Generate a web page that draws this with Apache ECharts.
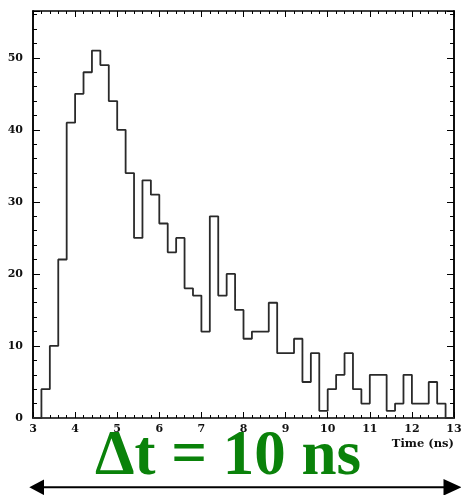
<!DOCTYPE html>
<html>
<head>
<meta charset="utf-8">
<script src="https://cdn.jsdelivr.net/npm/echarts@6/dist/echarts.min.js"></script>
<style>
  html, body { margin: 0; padding: 0; background: #fff; }
  #chart { width: 461px; height: 495px; }
</style>
</head>
<body>
<div id="chart"></div>
<script>
// Arrival-time histogram: left edge of each 0.2 ns bin and its entry count
const binLeftEdges = [
  3.0, 3.2, 3.4, 3.6, 3.8, 4.0, 4.2, 4.4, 4.6, 4.8,
  5.0, 5.2, 5.4, 5.6, 5.8, 6.0, 6.2, 6.4, 6.6, 6.8,
  7.0, 7.2, 7.4, 7.6, 7.8, 8.0, 8.2, 8.4, 8.6, 8.8,
  9.0, 9.2, 9.4, 9.6, 9.8, 10.0, 10.2, 10.4, 10.6, 10.8,
  11.0, 11.2, 11.4, 11.6, 11.8, 12.0, 12.2, 12.4, 12.6, 12.8
];
const counts = [
  0, 4, 10, 22, 41, 45, 48, 51, 49, 44,
  40, 34, 25, 33, 31, 27, 23, 25, 18, 17,
  12, 28, 17, 20, 15, 11, 12, 12, 16, 9,
  9, 11, 5, 9, 1, 4, 6, 9, 4, 2,
  6, 6, 1, 2, 6, 2, 2, 5, 2, 0
];
const lastBinRightEdge = 13;
const timeRange = [3, 13];
const countRange = [0, 56.5];
const xAxisTitle = 'Time (ns)';
const windowLabel = '\u0394t = 10 ns';

// Step outline: each bin value held from its left edge to the next edge
const outline = binLeftEdges.map((x, i) => [x, counts[i]]);
outline.push([lastBinRightEdge, counts[counts.length - 1]]);

const labelFont = { fontFamily: 'DejaVu Serif', fontWeight: 'bold', fontSize: 11, color: '#111' };
const frameLine = { show: true, onZero: false, lineStyle: { color: '#000', width: 1.5 } };

function timeAxis(position, showLabels) {
  return {
    type: 'value', position, min: timeRange[0], max: timeRange[1], interval: 1,
    axisLine: frameLine,
    axisTick: { show: true, inside: true, length: 6, lineStyle: { color: '#000', width: 1 } },
    minorTick: { show: true, splitNumber: 5, length: 3, lineStyle: { color: '#000', width: 1 } },
    axisLabel: Object.assign({ show: showLabels, margin: 6 }, labelFont),
    splitLine: { show: false }, minorSplitLine: { show: false }
  };
}
function countAxis(position, interval, tickLen, showLabels) {
  return {
    type: 'value', position, min: countRange[0], max: countRange[1], interval,
    axisLine: frameLine,
    axisTick: { show: true, inside: true, length: tickLen, lineStyle: { color: '#000', width: 1 } },
    axisLabel: Object.assign({
      show: showLabels, margin: 10,
      formatter: v => (v % 10 === 0 ? String(v) : '')
    }, labelFont),
    splitLine: { show: false }
  };
}

const chart = echarts.init(document.getElementById('chart'), null, { renderer: 'canvas' });
chart.setOption({
  animation: false,
  backgroundColor: '#fff',
  grid: { left: 33, right: 7, top: 11, bottom: 77, containLabel: false, outerBoundsMode: 'none' },
  xAxis: [timeAxis('bottom', true), timeAxis('top', false)],
  yAxis: [
    countAxis('left', 10, 7, true),
    countAxis('left', 2, 4, false),
    countAxis('right', 10, 7, false),
    countAxis('right', 2, 4, false)
  ],
  series: [{
    type: 'line',
    xAxisIndex: 0, yAxisIndex: 0,
    step: 'end',
    data: outline,
    symbol: 'none',
    lineStyle: { color: '#2a2a2a', width: 1.8 }
  }],
  graphic: [
    {
      type: 'text', x: 454, y: 444.5, z: 10,
      style: { text: xAxisTitle, align: 'right', verticalAlign: 'middle',
               font: 'bold 11.5px "DejaVu Serif"', fill: '#111' }
    },
    {
      type: 'text', x: 228, y: 458, z: 10,
      style: { text: windowLabel, align: 'center', verticalAlign: 'middle',
               font: 'bold 63px "Liberation Serif"', fill: '#0a820a' }
    },
    {
      type: 'line', z: 10,
      shape: { x1: 42, y1: 487.3, x2: 446, y2: 487.3 },
      style: { stroke: '#000', lineWidth: 2 }
    },
    {
      type: 'polygon', z: 10,
      shape: { points: [[29.3, 487.3], [44, 479.5], [44, 495.1]] },
      style: { fill: '#000' }
    },
    {
      type: 'polygon', z: 10,
      shape: { points: [[461.5, 487.3], [443.5, 479], [443.5, 495.6]] },
      style: { fill: '#000' }
    }
  ]
});
</script>
</body>
</html>
